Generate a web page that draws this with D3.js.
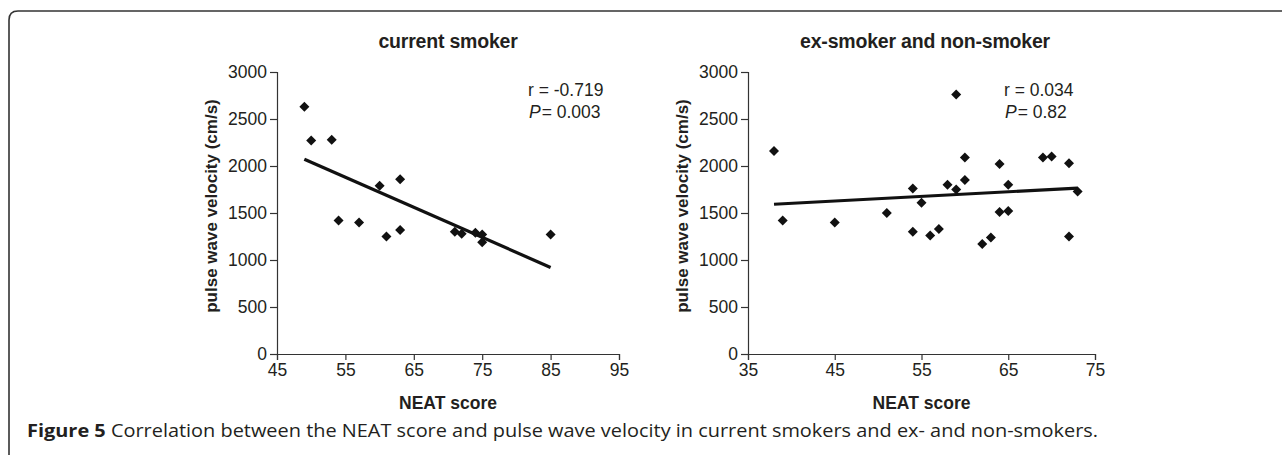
<!DOCTYPE html>
<html>
<head>
<meta charset="utf-8">
<script src="https://cdn.jsdelivr.net/npm/d3@7/dist/d3.min.js"></script>
<style>
  html, body { margin: 0; padding: 0; background: #fff; }
  svg { display: block; }
  text { fill: #231f20; }
</style>
</head>
<body>
<svg id="fig" width="1282" height="455"></svg>
<script>
// Figure 5: NEAT score vs pulse wave velocity, two scatter panels.
// Values.

const smokerNeat = [49, 50, 53, 54, 57, 60, 61, 63, 63, 71, 72, 74, 75, 75, 85];
const smokerPwv  = [2630, 2270, 2280, 1420, 1400, 1790, 1250, 1860, 1320, 1300, 1280, 1290, 1270, 1190, 1270];

const nonSmokerNeat = [38, 39, 45, 51, 54, 54, 55, 56, 57, 58, 59, 59, 60, 60, 62, 63, 64, 64, 65, 65, 69, 70, 72, 72, 73];
const nonSmokerPwv  = [2160, 1420, 1400, 1500, 1760, 1300, 1610, 1260, 1330, 1800, 2760, 1750, 2090, 1850, 1170, 1240, 2020, 1510, 1800, 1520, 2090, 2100, 2030, 1250, 1730];

const smokerXTicks = [45, 55, 65, 75, 85, 95];
const nonSmokerXTicks = [35, 45, 55, 65, 75];
const pwvTicks = [0, 500, 1000, 1500, 2000, 2500, 3000];

const panelTitles = ['current smoker', 'ex-smoker and non-smoker'];
const statR = ['r = -0.719', 'r = 0.034'];
const statP = ['= 0.003', '= 0.82'];

const xLabel = 'NEAT score';
const yLabel = 'pulse wave velocity (cm/s)';

const svg = d3.select('#fig');
const FONT = '"Liberation Sans", Arial, Helvetica, sans-serif';

// figure frame (rounded top-left corner, open at right/bottom)
svg.append('path')
  .attr('d', 'M9,460 V20 Q9,11 18,11 H1290')
  .attr('fill', 'none').attr('stroke', '#333').attr('stroke-width', 1.6);

function leastSquares(xs, ys) {
  const mx = d3.mean(xs), my = d3.mean(ys);
  let sxy = 0, sxx = 0;
  xs.forEach((x, i) => { sxy += (x - mx) * (ys[i] - my); sxx += (x - mx) * (x - mx); });
  const b = sxy / sxx;
  return (x) => my + b * (x - mx);
}

function panel(opts) {
  const { xs, ys, xTicks, left, right, title, titleX, r, p, statX } = opts;
  const top = 72, bottom = 354;
  const x = d3.scaleLinear().domain(d3.extent(xTicks)).range([left, right]);
  const y = d3.scaleLinear().domain([0, 3000]).range([bottom, top]);
  const g = svg.append('g').style('font-family', FONT);

  const xAxis = g.append('g').attr('transform', `translate(0,${bottom})`)
    .call(d3.axisBottom(x).tickValues(xTicks).tickSize(6).tickPadding(4).tickFormat(d3.format('d')));
  const yAxis = g.append('g').attr('transform', `translate(${left},0)`)
    .call(d3.axisLeft(y).tickValues(pwvTicks).tickSize(7).tickPadding(3).tickFormat(d3.format('d')));
  [xAxis, yAxis].forEach((a) => {
    a.select('.domain').attr('stroke', '#333').attr('stroke-width', 1.2);
    a.selectAll('.tick line').attr('stroke', '#333').attr('stroke-width', 1.2);
    a.selectAll('.tick text').style('font-size', '17.5px').style('font-family', FONT).attr('fill', '#231f20');
  });

  // trend line from least squares over the points
  const fit = leastSquares(xs, ys);
  const [x0, x1] = d3.extent(xs);
  g.append('line')
    .attr('x1', x(x0)).attr('y1', y(fit(x0)))
    .attr('x2', x(x1)).attr('y2', y(fit(x1)))
    .attr('stroke', '#111').attr('stroke-width', 3.2);

  const diamond = d3.symbol(d3.symbolSquare, 50);
  g.selectAll('path.pt').data(xs).enter().append('path')
    .attr('class', 'pt')
    .attr('d', diamond)
    .attr('transform', (d, i) => `translate(${x(d)},${y(ys[i])}) rotate(45)`)
    .attr('fill', '#111');

  g.append('text')
    .attr('x', titleX).attr('y', 48)
    .attr('text-anchor', 'middle')
    .style('font-size', '19.5px').style('font-weight', 'bold').style('letter-spacing', '-0.2px')
    .text(title);

  g.append('text')
    .attr('x', (left + right) / 2).attr('y', 409)
    .attr('text-anchor', 'middle')
    .style('font-size', '17.5px').style('font-weight', 'bold')
    .text(xLabel);

  g.append('text')
    .attr('transform', `translate(${left - 60},${(top + bottom) / 2 - 7}) rotate(-90)`)
    .attr('text-anchor', 'middle')
    .style('font-size', '17px').style('font-weight', 'bold')
    .text(yLabel);

  g.append('text')
    .attr('x', statX).attr('y', 96)
    .style('font-size', '17.5px')
    .text(r);
  const pt = g.append('text')
    .attr('x', statX + 1).attr('y', 118)
    .style('font-size', '17.5px');
  pt.append('tspan').style('font-style', 'italic').text('P');
  pt.append('tspan').attr('dx', 1).text(p);
}

panel({ xs: smokerNeat, ys: smokerPwv, xTicks: smokerXTicks, left: 277, right: 619,
        title: panelTitles[0], titleX: 448, r: statR[0], p: statP[0], statX: 528 });
panel({ xs: nonSmokerNeat, ys: nonSmokerPwv, xTicks: nonSmokerXTicks, left: 748, right: 1095,
        title: panelTitles[1], titleX: 925, r: statR[1], p: statP[1], statX: 1004 });

// caption
const cap = svg.append('text')
  .attr('x', 27).attr('y', 437)
  .style('font-family', '"Open Sans", "Noto Sans", sans-serif')
  .style('font-size', '17.5px');
cap.append('tspan').style('font-weight', 'bold').text('Figure 5');
cap.append('tspan').text(' Correlation between the NEAT score and pulse wave velocity in current smokers and ex- and non-smokers.');
cap.attr('textLength', 1071).attr('lengthAdjust', 'spacingAndGlyphs');
</script>
</body>
</html>
